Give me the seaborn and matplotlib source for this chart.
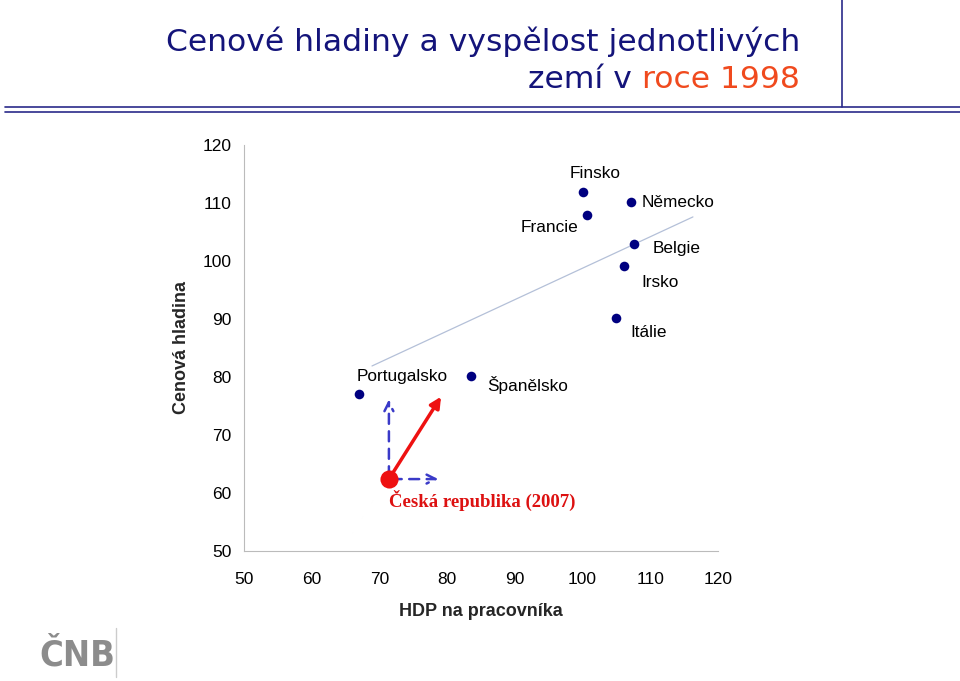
import matplotlib
matplotlib.use("Agg")
import matplotlib.pyplot as plt
import seaborn as sns
import pandas as pd

countries = ["Portugalsko", "Španělsko", "Finsko", "Francie", "Německo", "Belgie", "Irsko", "Itálie"]
hdp = [67.0, 83.5, 100.1, 100.7, 107.2, 107.6, 106.1, 105.0]
ceny = [77.1, 80.2, 111.9, 107.9, 110.2, 102.9, 99.1, 90.2]

cz_label = "Česká republika (2007)"
cz_hdp = 71.4
cz_ceny = 62.4
cz_target_hdp = 79.1
cz_target_ceny = 76.6

trend_x = [68.9, 116.3]
trend_y = [81.9, 107.6]

x_ticks = [50, 60, 70, 80, 90, 100, 110, 120]
y_ticks = [50, 60, 70, 80, 90, 100, 110, 120]

# label pixel offsets (dx, dy) and alignment
label_off = {
    "Portugalsko": (-2, 17, "left"),
    "Španělsko": (16, -9, "left"),
    "Finsko": (12, 18, "center"),
    "Francie": (-9, -12, "right"),
    "Německo": (10, -1, "left"),
    "Belgie": (19, -4, "left"),
    "Irsko": (17, -16, "left"),
    "Itálie": (14, -15, "left"),
}

sns.set_theme(style="white")
plt.rcParams["font.family"] = ["Liberation Sans", "DejaVu Sans"]

fig = plt.figure(figsize=(9.6, 6.81), dpi=100)
ax = fig.add_axes([244/960, 1-551/681, (718-244)/960, (551-145)/681])

df = pd.DataFrame({"hdp": hdp, "ceny": ceny, "country": countries})

ax.plot(trend_x, trend_y, color="#b4c0d8", lw=0.9, zorder=1)

sns.scatterplot(data=df, x="hdp", y="ceny", ax=ax, color="#000080", s=48,
                edgecolor="#000080", linewidth=0, zorder=3, legend=False)

px = 0.72
for c, x, y in zip(countries, hdp, ceny):
    dx, dy, ha = label_off[c]
    ax.annotate(c, (x, y), xytext=(dx*px, dy*px), textcoords="offset points",
                ha=ha, va="center", fontsize=12.4, color="black")

# Czech arrows
ax.annotate("", xy=(cz_hdp, cz_target_ceny), xytext=(cz_hdp, cz_ceny),
            arrowprops=dict(arrowstyle="->", color="#3a3ac8", lw=1.8, ls=(0, (4, 3)),
                            mutation_scale=16), zorder=2)
ax.annotate("", xy=(cz_target_hdp, cz_ceny), xytext=(cz_hdp, cz_ceny),
            arrowprops=dict(arrowstyle="->", color="#3a3ac8", lw=1.8, ls=(0, (4, 3)),
                            mutation_scale=16), zorder=2)
ax.annotate("", xy=(cz_target_hdp, cz_target_ceny), xytext=(cz_hdp, cz_ceny),
            arrowprops=dict(arrowstyle="-|>", color="#ee1111", lw=2.5,
                            mutation_scale=16, shrinkA=0, shrinkB=0), zorder=4)
sns.scatterplot(x=[cz_hdp], y=[cz_ceny], ax=ax, color="#ee1111", s=170,
                linewidth=0, zorder=5, legend=False)
ax.annotate(cz_label, (cz_hdp, cz_ceny), xytext=(0, -21*px), textcoords="offset points",
            ha="left", va="center", fontsize=13.5, color="#dd1111", fontweight="bold",
            family=["Liberation Serif", "DejaVu Serif"])

ax.set_xlim(50, 120)
ax.set_ylim(50, 120)
ax.set_xticks(x_ticks)
ax.set_yticks(y_ticks)
ax.tick_params(axis="both", labelsize=12.5, colors="black", length=4, width=0.8,
               color="#bbbbbb", direction="out")
ax.tick_params(axis="y", pad=5)
ax.tick_params(axis="x", pad=11)
for s in ["top", "right"]:
    ax.spines[s].set_visible(False)
for s in ["left", "bottom"]:
    ax.spines[s].set_color("#bbbbbb")
    ax.spines[s].set_linewidth(0.8)
ax.set_xlabel("HDP na pracovníka", fontsize=13, fontweight="bold", labelpad=12)
ax.set_ylabel("Cenová hladina", fontsize=13, fontweight="bold", labelpad=9)
ax.set_facecolor("white")

# title
navy = "#14147a"
fig.text(800/960, 1-42/681, "Cenové hladiny a vyspělost jednotlivých", ha="right", va="center",
         fontsize=22.6, color=navy, family=["DejaVu Sans"])
t2 = fig.text(800/960, 1-79/681, "roce 1998", ha="right", va="center",
              fontsize=22.6, color="#f04a1e", family=["DejaVu Sans"])
fig.canvas.draw()
bb = t2.get_window_extent()
fig.text(bb.x0/960, 1-79/681, "zemí v ", ha="right", va="center",
         fontsize=22.6, color=navy, family=["DejaVu Sans"])

# decorative lines
fig.add_artist(plt.Line2D([5/960, 1], [1-107/681, 1-107/681], color="#2a2a8a", lw=1.2))
fig.add_artist(plt.Line2D([5/960, 1], [1-112/681, 1-112/681], color="#2a2a8a", lw=1.2))
fig.add_artist(plt.Line2D([842/960, 842/960], [1-107/681, 1], color="#2a2a8a", lw=1.2))

# logo
fig.text(39/960, 1-655/681, "ČNB", ha="left", va="center", fontsize=26, color="#8c8c8c",
         family=["DejaVu Sans"], fontstretch="condensed", fontweight="bold")
fig.add_artist(plt.Line2D([116/960, 116/960], [1-677/681, 1-628/681], color="#cccccc", lw=1))

fig.savefig("out.png", dpi=100, facecolor="white")
